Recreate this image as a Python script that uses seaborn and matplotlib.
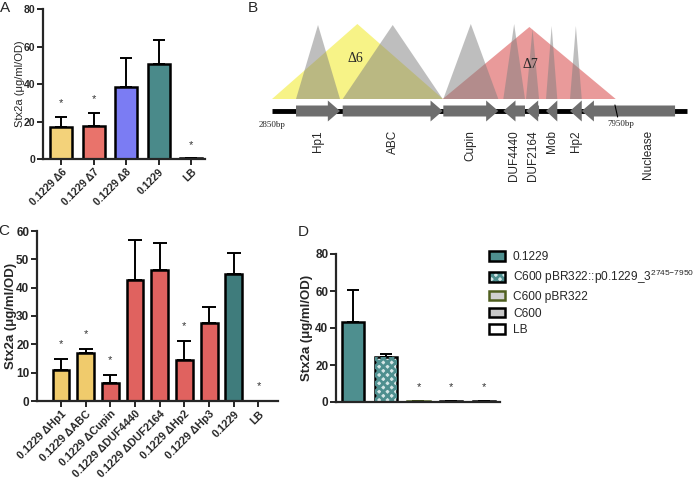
import numpy as np
import pandas as pd
import seaborn as sns
import matplotlib.pyplot as plt
from matplotlib.patches import Patch, Polygon
from matplotlib.legend_handler import HandlerTuple

# ---- panel A data
a_labels = ["0.1229 \u03946", "0.1229 \u03947", "0.1229 \u03948", "0.1229", "LB"]
a_means = [16.9, 17.5, 38.5, 50.8, 0.4]
a_err = [5.7, 7.2, 15.5, 12.8, 0.0]
a_sig = [True, True, False, False, True]
a_colors = ["#F3D27A", "#E9736B", "#7B7CF3", "#4A8A8A", "#FFFFFF"]

# ---- panel C data
c_labels = ["0.1229 \u0394Hp1", "0.1229 \u0394ABC", "0.1229 \u0394Cupin",
            "0.1229 \u0394DUF4440", "0.1229 \u0394DUF2164", "0.1229 \u0394Hp2",
            "0.1229 \u0394Hp3", "0.1229", "LB"]
c_means = [11.1, 16.8, 6.2, 42.6, 46.4, 14.6, 27.4, 44.9, 0.0]
c_err = [3.8, 1.6, 2.9, 14.1, 9.4, 6.7, 5.8, 7.3, 0.0]
c_sig = [True, True, True, False, False, True, False, False, True]
c_colors = ["#F0CB6C", "#F0CB6C", "#E0625F", "#E0625F", "#E0625F",
            "#E0625F", "#E0625F", "#3F7C7C", "#FFFFFF"]

# ---- panel D data
d_labels = ["0.1229", "C600 pBR322::p0.1229_3$^{2745\\mathrm{-}7950}$",
            "C600 pBR322", "C600", "LB"]
d_means = [43.4, 24.5, 0.5, 0.4, 0.3]
d_err = [17.0, 1.4, 0.0, 0.0, 0.0]
d_sig = [False, False, True, True, True]
d_colors = ["#4E8F8F", "#D5E6E6", "#D0D0D0", "#C8C8C8", "#FFFFFF"]
d_edges = ["black", "black", "#4F5F1F", "black", "black"]

# ---- panel B data (positions in bp)
gene_names = ["Hp1", "ABC", "Cupin", "DUF4440", "DUF2164", "Mob", "Hp2", "Nuclease"]
gene_start = [3205, 3896, 5385, 6273, 6609, 6905, 7260, 7434]
gene_end = [3856, 5376, 6199, 6594, 6802, 7072, 7434, 8815]
gene_strand = [1, 1, 1, -1, -1, -1, -1, -1]
ko_height = [86, 86, 87, 87, 82, 85, 85]
region_names = ["\u03946", "\u03947"]
region_start = [2850, 5376]
region_end = [5380, 7937]
region_peak = [4113, 6659]
region_height = [87, 84]
region_colors = ["#F4EE55", "#E07070"]
backbone = [2850, 8990]

sns.set_style("ticks")
plt.rcParams["font.family"] = ["Liberation Sans", "DejaVu Sans"]
plt.rcParams["mathtext.fontset"] = "custom"
plt.rcParams["mathtext.rm"] = "Liberation Sans"
plt.rcParams["mathtext.it"] = "Liberation Sans"
plt.rcParams["hatch.linewidth"] = 2.0

fig = plt.figure(figsize=(7, 4.79), dpi=100)


def px_axes(x0, y0, x1, y1):
    # axes from pixel box (top-left origin)
    return fig.add_axes([x0 / 700, 1 - y1 / 479, (x1 - x0) / 700, (y1 - y0) / 479])


def bar_panel(ax, labels, means, errs, sig, colors, capsize, star_off):
    df = pd.DataFrame({"strain": labels, "stx": means})
    sns.barplot(data=df, x="strain", y="stx", hue="strain", palette=colors,
                legend=False, width=0.68, edgecolor="black", linewidth=1.8,
                saturation=1, ax=ax, zorder=2)
    x = np.arange(len(means))
    ax.errorbar(x, means, yerr=[np.zeros(len(errs)), errs], fmt="none",
                ecolor="black", elinewidth=1.4, capsize=capsize, capthick=1.4,
                zorder=1)
    for i in x:
        if sig[i]:
            ax.text(i, means[i] + errs[i] + star_off, "*", ha="center",
                    va="center", fontsize=8, color="#333333")
    ax.set_xlabel("")
    sns.despine(ax=ax)
    for s in ["left", "bottom"]:
        ax.spines[s].set_linewidth(1.6)
    ax.tick_params(width=1.4, length=4, pad=1.5)


# ---------------- A
axA = px_axes(43, 9, 205, 159)
bar_panel(axA, a_labels, a_means, a_err, a_sig, a_colors, 4.3, 7.0)
axA.set_xlim(-0.57, 4.43)
axA.set_ylim(0, 80)
axA.set_yticks(np.arange(0, 81, 20))
axA.set_yticklabels(axA.get_yticks().astype(int), fontsize=7.5, fontweight="bold")
axA.set_xticks(range(len(a_labels)))
axA.set_xticklabels(a_labels, rotation=45, ha="right", rotation_mode="anchor",
                    fontsize=7.5, fontweight="bold")
axA.set_ylabel("Stx2a (\u03bcg/ml/OD)", fontsize=8)
axA.yaxis.set_label_coords(-0.11, 0.5)

# ---------------- C
axC = px_axes(37, 231, 278, 401)
bar_panel(axC, c_labels, c_means, c_err, c_sig, c_colors, 5.0, 5.3)
axC.set_xlim(-0.97, 8.79)
axC.set_ylim(0, 60)
axC.set_yticks(np.arange(0, 61, 10))
axC.set_yticklabels(axC.get_yticks().astype(int), fontsize=8.5, fontweight="bold")
axC.set_xticks(range(len(c_labels)))
axC.set_xticklabels(c_labels, rotation=45, ha="right", rotation_mode="anchor",
                    fontsize=7.8, fontweight="bold")
axC.set_ylabel("Stx2a (\u03bcg/ml/OD)", fontsize=9.5, fontweight="bold")
axC.yaxis.set_label_coords(-0.085, 0.5)

# ---------------- D
axD = px_axes(336, 254, 500, 402)
bar_panel(axD, d_labels, d_means, d_err, d_sig, d_colors, 4.0, 7.8)
for bar, ec in zip(axD.patches, d_edges):
    bar.set_edgecolor(ec)
# checkered bar
axD.bar(1, d_means[1], width=0.68, color="none", edgecolor="#4E8F8F",
        hatch="xxxx", linewidth=0, zorder=2.5)
axD.set_xlim(-0.53, 4.5)
axD.set_ylim(0, 80)
axD.set_yticks(np.arange(0, 81, 20))
axD.set_yticklabels(axD.get_yticks().astype(int), fontsize=8.5, fontweight="bold")
axD.set_xticks([])
axD.set_ylabel("Stx2a (\u03bcg/ml/OD)", fontsize=9.5, fontweight="bold")
axD.yaxis.set_label_coords(-0.14, 0.5)

handles = []
for i in range(len(d_labels)):
    p = Patch(facecolor=d_colors[i], edgecolor=d_edges[i], linewidth=1.8)
    if i == 1:
        p = (Patch(facecolor=d_colors[i], edgecolor="#4E8F8F", hatch="xxxx", linewidth=0),
             Patch(facecolor="none", edgecolor="black", linewidth=1.8))
    handles.append(p)
fig.legend(handles, d_labels, loc="upper left", bbox_to_anchor=(489 / 700, 1 - 251 / 479),
           frameon=False, fontsize=8.6, handlelength=1.3, handleheight=0.85,
           handletextpad=0.7, labelspacing=0.4, borderaxespad=0, borderpad=0,
           handler_map={tuple: HandlerTuple(ndivide=1, pad=0)})

# ---------------- B
axB = px_axes(255, 0, 700, 230)
axB.set_xlim(2598, 9184)
axB.set_ylim(-119, 111)
axB.axis("off")
base_y = 12
for s, e, pk, h, c in zip(region_start, region_end, region_peak, region_height, region_colors):
    axB.add_patch(Polygon([(s, base_y), (pk, h), (e, base_y)], closed=True,
                          facecolor=c, alpha=0.7, edgecolor="none", zorder=1))
for s, e, h in zip(gene_start, gene_end, ko_height):
    axB.add_patch(Polygon([(s, base_y), ((s + e) / 2, h), (e, base_y)], closed=True,
                          facecolor="#7F7F7F", alpha=0.5, edgecolor="none", zorder=2))
axB.text(region_peak[0] - 35, 52, region_names[0], family="Liberation Serif",
         fontsize=10, ha="center", va="center")
axB.text(region_peak[1] + 10, 46, region_names[1], family="Liberation Serif",
         fontsize=10, ha="center", va="center")

axB.plot(backbone, [0, 0], color="black", lw=3.5, solid_capstyle="butt", zorder=3)
h1, h2, head = 5.5, 10.5, 180
for s, e, st in zip(gene_start, gene_end, gene_strand):
    L = min(head, e - s)
    if st > 0:
        pts = [(s, -h1), (e - L, -h1), (e - L, -h2), (e, 0), (e - L, h2), (e - L, h1), (s, h1)]
    else:
        pts = [(e, -h1), (s + L, -h1), (s + L, -h2), (s, 0), (s + L, h2), (s + L, h1), (e, h1)]
    axB.add_patch(Polygon(pts, closed=True, facecolor="#6E6E6E", edgecolor="none", zorder=4))
axB.plot([7925, 7965], [6, -6], color="black", lw=0.8, zorder=5)
axB.text(backbone[0], -14, "2850bp", family="Liberation Serif", fontsize=6.5,
         ha="center", va="center")
axB.text(8015, -13, "7950bp", family="Liberation Serif", fontsize=6.5,
         ha="center", va="center")
for name, s, e in zip(gene_names, gene_start, gene_end):
    xc = (s + e) / 2 + (290 if name == "Nuclease" else 0)
    axB.text(xc, -19, name, rotation=90, ha="center", va="top", fontsize=8.5)

# panel letters
for lab, x, y in [("A", 5, 8), ("B", 253, 8), ("C", 4, 231), ("D", 303, 232)]:
    fig.text(x / 700, 1 - y / 479, lab, fontsize=11, ha="center", va="center")

fig.savefig("out.png", dpi=100)
